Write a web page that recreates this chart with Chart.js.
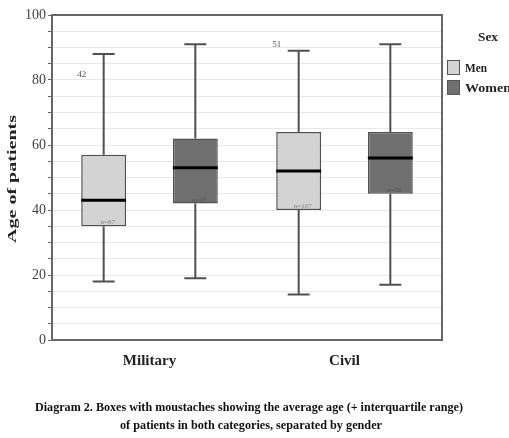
<!DOCTYPE html>
<html><head><meta charset="utf-8">
<script src="https://cdn.jsdelivr.net/npm/chart.js@4"></script>
<style>html,body{margin:0;padding:0;background:#fff}#w{width:509px;height:438px;position:relative}</style>
</head><body><div id="w"><canvas id="c" width="509" height="438"></canvas></div>
<script>
const categories = ['Military', 'Civil'];
const seriesNames = ['Men', 'Women'];
const menMin = [18, 14];
const menQ1 = [35, 40];
const menMedian = [43, 52];
const menQ3 = [57, 64];
const menMax = [88, 89];
const womenMin = [19, 17];
const womenQ1 = [42, 45];
const womenMedian = [53, 56];
const womenQ3 = [62, 64];
const womenMax = [91, 91];
const menOutlierValues = [82, 91];
const menOutlierLabels = ['42', '51'];
const menCountLabels = ['n=87', 'n=107'];
const womenCountLabels = ['n=97', 'n=56'];
const yTickLabels = [0, 20, 40, 60, 80, 100];
const yTitle = 'Age of patients';
const legendTitle = 'Sex';
const captionLines = ['Diagram 2. Boxes with moustaches showing the average age (+ interquartile range)',
                      'of patients in both categories, separated by gender'];

const stats = [
  {min: menMin, q1: menQ1, med: menMedian, q3: menQ3, max: menMax, counts: menCountLabels},
  {min: womenMin, q1: womenQ1, med: womenMedian, q3: womenQ3, max: womenMax, counts: womenCountLabels}
];
const fills = ['#d3d3d3', '#6f6f6f'];
const SERIF = '"Liberation Serif", "DejaVu Serif", serif';

function fitText(ctx, text, cx, cy, targetW) {
  const w = ctx.measureText(text).width;
  const s = targetW ? targetW / w : 1;
  ctx.save();
  ctx.translate(cx, cy);
  ctx.scale(s, 1);
  ctx.textAlign = 'center';
  ctx.fillText(text, 0, 0);
  ctx.restore();
}

const boxPlugin = {
  id: 'boxParts',
  afterDatasetsDraw(chart) {
    const ctx = chart.ctx, y = chart.scales.y;
    stats.forEach((st, di) => {
      const meta = chart.getDatasetMeta(di);
      meta.data.forEach((bar, i) => {
        const x = bar.x, hw = bar.width / 2;
        const pMin = y.getPixelForValue(st.min[i]), pMax = y.getPixelForValue(st.max[i]);
        const pQ1 = y.getPixelForValue(st.q1[i]), pQ3 = y.getPixelForValue(st.q3[i]);
        const pMed = y.getPixelForValue(st.med[i]);
        ctx.save();
        ctx.strokeStyle = '#505050';
        ctx.lineWidth = 2;
        ctx.beginPath();
        ctx.moveTo(x, pQ3); ctx.lineTo(x, pMax);
        ctx.moveTo(x, pQ1); ctx.lineTo(x, pMin);
        ctx.moveTo(x - 11, pMax); ctx.lineTo(x + 11, pMax);
        ctx.moveTo(x - 11, pMin); ctx.lineTo(x + 11, pMin);
        ctx.stroke();
        ctx.strokeStyle = '#000';
        ctx.lineWidth = 3;
        ctx.beginPath();
        ctx.moveTo(x - hw, pMed); ctx.lineTo(x + hw, pMed);
        ctx.stroke();
        ctx.fillStyle = 'rgba(60,60,60,0.55)';
        ctx.font = '7px ' + SERIF;
        ctx.textAlign = 'center';
        ctx.fillText(st.counts[i], x + 4, pQ1 - 2);
        ctx.restore();
      });
    });
    const meta0 = chart.getDatasetMeta(0);
    ctx.save();
    ctx.fillStyle = '#555';
    ctx.font = '9px ' + SERIF;
    ctx.textAlign = 'center';
    meta0.data.forEach((bar, i) => {
      const py = y.getPixelForValue(menOutlierValues[i]);
      ctx.fillText(menOutlierLabels[i], bar.x - 22, py + 3);
    });
    ctx.restore();
  },
  afterDraw(chart) {
    const ctx = chart.ctx, a = chart.chartArea;
    ctx.save();
    ctx.strokeStyle = '#666';
    ctx.lineWidth = 2;
    ctx.strokeRect(a.left, a.top, a.right - a.left, a.bottom - a.top);
    // y axis title
    ctx.fillStyle = '#222';
    ctx.font = 'bold 13px ' + SERIF;
    ctx.save();
    ctx.translate(16, 179);
    ctx.rotate(-Math.PI / 2);
    ctx.textAlign = 'center';
    const tw = ctx.measureText(yTitle).width;
    ctx.scale(128 / tw, 1);
    ctx.fillText(yTitle, 0, 0);
    ctx.restore();
    // legend
    ctx.fillStyle = '#222';
    ctx.font = 'bold 13px ' + SERIF;
    fitText(ctx, legendTitle, 488, 41, 20);
    seriesNames.forEach((n, i) => {
      const by = 60 + i * 20;
      ctx.fillStyle = fills[i];
      ctx.fillRect(447, by, 13, 15);
      ctx.strokeStyle = '#555';
      ctx.lineWidth = 1;
      ctx.strokeRect(447.5, by + 0.5, 12, 14);
      ctx.fillStyle = '#222';
      ctx.font = 'bold 13px ' + SERIF;
      ctx.textAlign = 'left';
      const w = ctx.measureText(n).width;
      ctx.save();
      ctx.translate(465, by + 12);
      ctx.scale(i === 0 ? 22 / w : 46 / w, 1);
      ctx.fillText(n, 0, 0);
      ctx.restore();
    });
    // caption
    ctx.fillStyle = '#111';
    ctx.font = 'bold 12px ' + SERIF;
    fitText(ctx, captionLines[0], 249, 411, 428);
    fitText(ctx, captionLines[1], 251, 429, 262);
    ctx.restore();
  }
};

new Chart(document.getElementById('c'), {
  type: 'bar',
  data: {
    labels: categories,
    datasets: stats.map((st, i) => ({
      label: seriesNames[i],
      data: st.q1.map((v, k) => [v, st.q3[k]]),
      backgroundColor: fills[i],
      borderColor: '#505050',
      borderWidth: 1.5,
      borderSkipped: false,
      categoryPercentage: 0.94,
      barPercentage: 0.49
    }))
  },
  options: {
    responsive: false,
    devicePixelRatio: 1,
    animation: false,
    layout: {padding: {left: 0, right: 67, top: 15, bottom: 68}},
    plugins: {legend: {display: false}, tooltip: {enabled: false}},
    scales: {
      x: {
        grid: {display: false},
        border: {color: '#666', width: 2},
        ticks: {color: '#222', font: {family: SERIF, size: 15, weight: 'bold'}, padding: 4},
        afterFit(s) { s.height = 30; }
      },
      y: {
        min: 0, max: 100,
        ticks: {
          stepSize: 5,
          autoSkip: false,
          color: '#444',
          font: {family: SERIF, size: 14},
          padding: 2,
          callback: (v) => yTickLabels.includes(v) ? String(v) : ''
        },
        grid: {
          color: (c) => (c.tick && c.tick.value > 0 && c.tick.value < 100) ? 'rgba(0,0,0,0.09)' : 'rgba(0,0,0,0)',
          borderDash: [2, 2],
          tickColor: '#666',
          tickLength: 4,
          tickBorderDash: [],
          drawTicks: true
        },
        border: {color: '#666', width: 2},
        title: {display: false},
        afterFit(s) { s.width = 52; }
      }
    }
  },
  plugins: [boxPlugin]
});
</script>
</body></html>
